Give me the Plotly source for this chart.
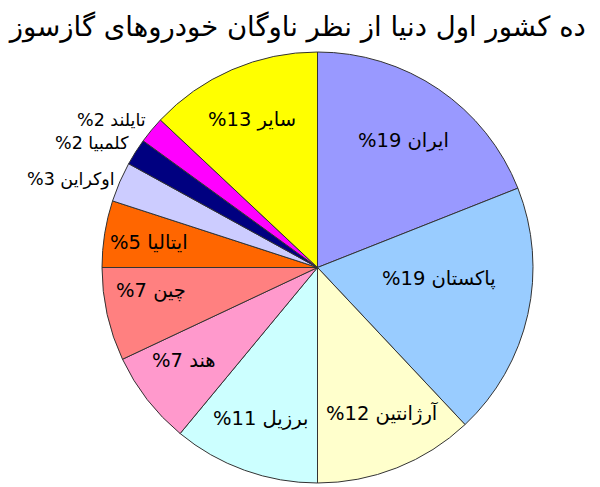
import math
import plotly.graph_objects as go

countries = ["ایران", "پاکستان", "آرژانتین", "برزیل", "هند", "چین", "ایتالیا", "اوکراین", "کلمبیا", "تایلند", "سایر"]
shares = [19, 19, 12, 11, 7, 7, 5, 3, 2, 2, 13]
colors = ["#9999ff", "#99ccff", "#ffffcc", "#ccffff", "#ff99cc", "#ff8080",
          "#ff6600", "#ccccff", "#000080", "#ff00ff", "#ffff00"]
title_text = "ده کشور اول دنیا از نظر ناوگان خودروهای گازسوز"

# label placement (style): radius as fraction of pie radius, angular nudge in degrees
label_r = [0.71, 0.565, 0.74, 0.75, 0.755, 0.78, 0.79, 1.015, 1.04, 1.04, 0.75]
label_nudge = [0, -7.6, -2.5, 1, 3, 4.6, -0.5, 0.4, 1.4, 1.4, -0.6]

labels_text = [f"%{v} {c}" for c, v in zip(countries, shares)]

fig = go.Figure(go.Pie(
    labels=countries,
    values=shares,
    textinfo="none",
    sort=False,
    direction="clockwise",
    rotation=0,
    marker=dict(colors=colors, line=dict(color="#333333", width=1)),
    showlegend=False,
    hoverinfo="label+value",
    domain=dict(x=[0, 1], y=[0, 1]),
))

total = sum(shares)
cum = 0
for txt, v, rf, nd in zip(labels_text, shares, label_r, label_nudge):
    mid = (cum + v / 2) / total * 360 + nd
    cum += v
    th = math.radians(mid)
    x = 0.5 + 0.5 * rf * math.sin(th)
    y = 0.5 + 0.5 * rf * math.cos(th)
    outside = rf > 1
    fig.add_annotation(
        x=x, y=y, xref="paper", yref="paper",
        text=txt, showarrow=False,
        xanchor="right" if outside else "center", yanchor="middle",
        font=dict(family="DejaVu Sans", size=19.5 if not outside else 17.5, color="#000000"),
    )

fig.update_layout(
    width=600, height=487,
    margin=dict(l=94, r=75, t=44, b=12),
    paper_bgcolor="white",
    plot_bgcolor="white",
    title=dict(text=title_text, x=0.483, xanchor="center", y=0.962, yanchor="middle",
               font=dict(family="DejaVu Sans", size=27.5, color="#000000")),
)

fig.write_html("out.html")
